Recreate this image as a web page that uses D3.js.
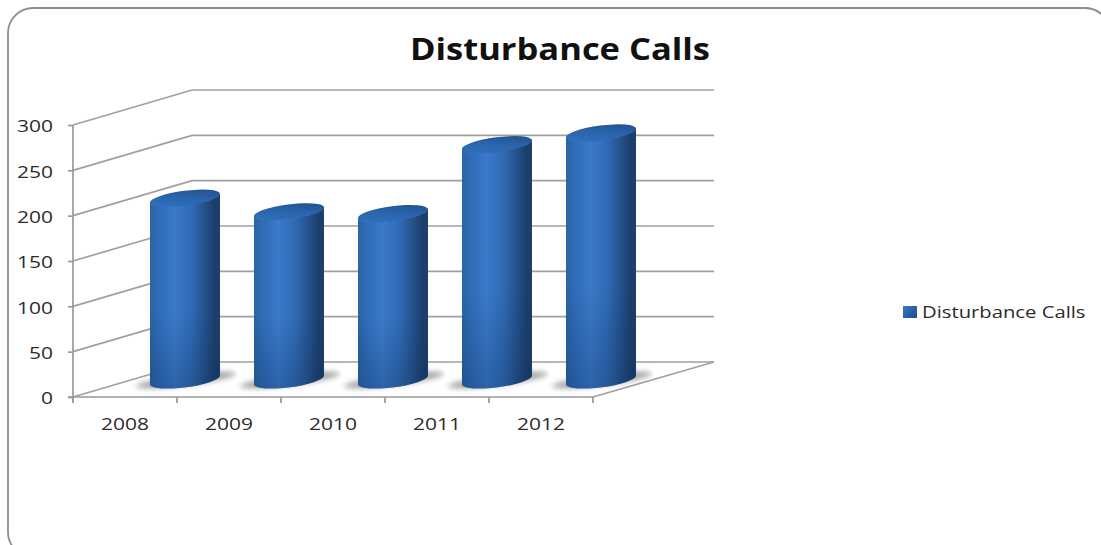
<!DOCTYPE html>
<html><head><meta charset="utf-8">
<script src="https://cdn.jsdelivr.net/npm/d3@7"></script>
<style>html,body{margin:0;padding:0;background:#fff}svg{display:block}</style>
</head><body><svg id="c" width="1101" height="545"></svg>
<script>
const chartTitle = "Disturbance Calls";
const seriesName = "Disturbance Calls";
const categories = ["2008","2009","2010","2011","2012"];
const values = [201,186,184,260,273];
const yTicks = [0,50,100,150,200,250,300];

const svg = d3.select("#c");
const font = "'Open Sans','DejaVu Sans',sans-serif";
const defs = svg.append("defs");

const x = d3.scaleBand().domain(categories).range([73,593]).paddingInner(0).paddingOuter(0);
const y = d3.scaleLinear().domain([0,300]).range([397,125]);
const depth = {dx:119, dy:-35};
const gridCol = "#a0a0a0", axisCol = "#999999";

// the reference is stretched horizontally: widen each text by a factor
function stretch(sel, k){
  sel.each(function(){
    const len = this.getComputedTextLength();
    d3.select(this).attr("textLength",len*k).attr("lengthAdjust","spacingAndGlyphs");
  });
}

// frame
svg.append("rect").attr("x",8).attr("y",8).attr("width",1102).attr("height",549).attr("rx",25)
  .attr("fill","#fff").attr("stroke","#8e8e8e").attr("stroke-width",1.8);

// gradients
const bodyG = defs.append("linearGradient").attr("id","body");
[[0,"#2a62a6"],[.12,"#2f6cb6"],[.35,"#3a7aca"],[.6,"#2f69b2"],[.8,"#234f88"],[.93,"#1b3d69"],[1,"#1c3f6e"]]
 .forEach(d=>bodyG.append("stop").attr("offset",d[0]).attr("stop-color",d[1]));
const shadeG = defs.append("linearGradient").attr("id","shade").attr("x1",0).attr("x2",0).attr("y1",0).attr("y2",1);
shadeG.append("stop").attr("offset",.6).attr("stop-color","#0c2a55").attr("stop-opacity",0);
shadeG.append("stop").attr("offset",1).attr("stop-color","#0c2a55").attr("stop-opacity",.28);
const capG = defs.append("linearGradient").attr("id","cap").attr("x1",0).attr("y1",1).attr("x2",1).attr("y2",0);
[[0,"#3373c0"],[.5,"#2a65ad"],[1,"#1e4c86"]]
 .forEach(d=>capG.append("stop").attr("offset",d[0]).attr("stop-color",d[1]));
const blur = defs.append("filter").attr("id","blur").attr("x","-30%").attr("y","-80%").attr("width","160%").attr("height","260%");
blur.append("feGaussianBlur").attr("stdDeviation",2.5);
const legG = defs.append("linearGradient").attr("id","leg").attr("x2",1).attr("y2",1);
legG.append("stop").attr("offset",0).attr("stop-color","#3a7aca");
legG.append("stop").attr("offset",1).attr("stop-color","#1c4a84");

// walls: gridlines
const g = svg.append("g").attr("fill","none");
yTicks.forEach(t=>{
  const p = d3.path();
  p.moveTo(x.range()[0], y(t));
  p.lineTo(x.range()[0]+depth.dx, y(t)+depth.dy);
  p.lineTo(x.range()[1]+depth.dx+2, y(t)+depth.dy);
  g.append("path").attr("d",p.toString()).attr("stroke",gridCol).attr("stroke-width",1.7);
});
g.append("line").attr("x1",x.range()[1]).attr("y1",y(0)).attr("x2",x.range()[1]+depth.dx+2).attr("y2",y(0)+depth.dy)
  .attr("stroke",gridCol).attr("stroke-width",1.7);

// axes
const yAxis = d3.axisLeft(y).tickValues(yTicks).tickSize(5).tickPadding(15);
const yG = svg.append("g").attr("transform","translate(73,0)").call(yAxis);
const xAxis = d3.axisBottom(x).tickSize(0);
const xG = svg.append("g").attr("transform",`translate(0,${y(0)})`).call(xAxis);
xG.selectAll(".tick text").attr("dy",0).attr("y",33);
yG.selectAll(".tick text").attr("dy","0.42em");
d3.range(categories.length+1).forEach(i=>{
  const px = x.range()[0] + i*x.step();
  xG.append("line").attr("x1",px).attr("x2",px).attr("y1",0).attr("y2",6);
});
[yG,xG].forEach(a=>{
  a.selectAll("path.domain").remove();
  a.selectAll("line").attr("stroke",axisCol).attr("stroke-width",1.7);
  a.selectAll("text").attr("fill","#2b2b2b").attr("font-family",font).attr("font-size",16);
  stretch(a.selectAll("text"),1.31);
});
yG.append("line").attr("x1",0).attr("x2",0).attr("y1",y(0)+5).attr("y2",y(300)).attr("stroke",axisCol).attr("stroke-width",1.7);
xG.append("line").attr("x1",x.range()[0]-5).attr("x2",x.range()[1]).attr("y1",0).attr("y2",0).attr("stroke",axisCol).attr("stroke-width",1.7);

// bars: the cylinders stand inside the floor, offset from the front axis
const barW = 70, rx = 35.4, ry = 7.5, rot = -7.3;
const bars = svg.append("g");
const baseLeftY = 385, slant = 9, barShift = 60;
const pxPerUnit = y(0)-y(1);
categories.forEach((c,i)=>{
  const xl = x(c) + (x.step()-barW)/2 + barShift;
  const xr = xl + barW;
  const topL = baseLeftY - values[i]*pxPerUnit;
  const gb = bars.append("g");
  gb.append("ellipse").attr("cx",xl+36).attr("cy",baseLeftY-5).attr("rx",50).attr("ry",6)
    .attr("transform",`rotate(${rot} ${xl+36} ${baseLeftY-5})`)
    .attr("fill","#8a8a8a").attr("opacity",.7).attr("filter","url(#blur)");
  const body = `M${xl},${topL} L${xl},${baseLeftY} A${rx},${ry} ${rot} 0 0 ${xr},${baseLeftY-slant} L${xr},${topL-slant} A${rx},${ry} ${rot} 0 1 ${xl},${topL} Z`;
  gb.append("path").attr("d",body).attr("fill","url(#body)");
  gb.append("path").attr("d",body).attr("fill","url(#shade)");
  gb.append("ellipse").attr("cx",(xl+xr)/2).attr("cy",topL-slant/2).attr("rx",rx).attr("ry",ry)
    .attr("transform",`rotate(${rot} ${(xl+xr)/2} ${topL-slant/2})`).attr("fill","url(#cap)");
});

// title
svg.append("text").attr("x",560).attr("y",60).attr("text-anchor","middle")
  .attr("font-family",font).attr("font-weight",700).attr("font-size",30).attr("fill","#111").text(chartTitle)
  .call(stretch,1.15);

// legend
const lg = svg.append("g");
lg.append("rect").attr("x",903).attr("y",306).attr("width",14).attr("height",12).attr("fill","url(#leg)");
lg.append("text").attr("x",922).attr("y",318).attr("font-family",font).attr("font-size",17).attr("fill","#2b2b2b").text(seriesName)
  .call(stretch,1.19);
</script></body></html>
